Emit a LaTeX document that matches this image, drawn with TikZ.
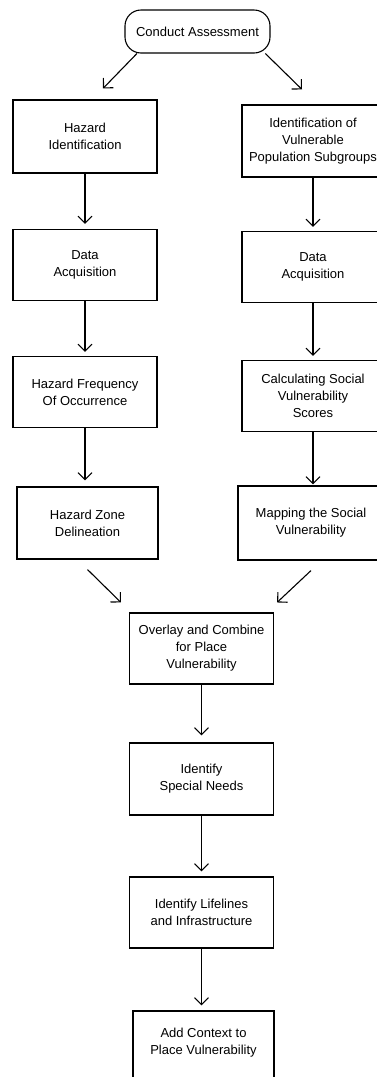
\documentclass[tikz,border=0pt]{standalone}
\usepackage{fontspec}
\setmainfont{Liberation Sans}
\usetikzlibrary{arrows.meta}

\begin{document}
\begin{tikzpicture}[x=1pt,y=-1pt,
        stepbox/.style={draw,line width=1.1pt,align=center,inner sep=2pt,
            minimum width=144pt,minimum height=71pt,
            font=\fontsize{13}{17}\selectfont},
        startbox/.style={stepbox,rounded corners=16pt,
            minimum width=145pt,minimum height=43pt},
        flow/.style={line width=1.1pt,-{Straight Barb[length=7pt,width=14pt]}}]
    \useasboundingbox (0,0) rectangle (376,1077);

    \node[startbox] (start) at (197.5,31.5) {Conduct Assessment};

    \node[stepbox,minimum height=73pt] (haz1) at (85,136.5) {Hazard\\Identification};
    \node[stepbox] (haz2) at (85,265) {Data\\Acquisition};
    \node[stepbox] (haz3) at (85,392) {Hazard Frequency\\Of Occurrence};
    \node[stepbox,minimum width=141pt,minimum height=72pt] (haz4) at (87.5,523) {Hazard Zone\\Delineation};

    \node[stepbox,minimum width=142pt,minimum height=72pt] (soc1) at (313,141) {Identification of\\Vulnerable\\Population Subgroups};
    \node[stepbox,minimum width=142pt] (soc2) at (313,267) {Data\\Acquisition};
    \node[stepbox,minimum width=142pt] (soc3) at (313,396) {Calculating Social\\Vulnerability\\Scores};
    \node[stepbox,minimum width=146pt,minimum height=74pt] (soc4) at (311,523) {Mapping the Social\\Vulnerability};

    \node[stepbox] (overlay) at (201.5,648.5) {Overlay and Combine\\for Place\\Vulnerability};
    \node[stepbox,minimum height=72pt] (special) at (201.5,779) {Identify\\Special Needs};
    \node[stepbox] (life) at (201.5,912.5) {Identify Lifelines\\and Infrastructure};
    \node[stepbox,minimum width=141pt,minimum height=76pt,text depth=16pt] (context) at (203.5,1049) {Add Context to\\Place Vulnerability};

    \draw[flow] (start.200) -- ([xshift=18pt,yshift=11pt]haz1.north);
    \draw[flow] (start.342) -- ([xshift=-11pt,yshift=15pt]soc1.north);

    \draw[flow,shorten >=5pt] (haz1.south) -- (haz2.north);
    \draw[flow,shorten >=4pt] (haz2.south) -- (haz3.north);
    \draw[flow,shorten >=6pt] (haz3.south) -- (haz3.south |- haz4.north);

    \draw[flow,shorten >=4pt] (soc1.south) -- (soc1.south |- soc2.north);
    \draw[flow,shorten >=4pt] (soc2.south) -- (soc3.north);
    \draw[flow,shorten >=1pt] (soc3.south) -- (soc3.south |- soc4.north);

    \draw[flow] ([yshift=-10pt]haz4.south) -- ([xshift=-8pt,yshift=10pt]overlay.north west);
    \draw[flow] ([yshift=-10pt]soc4.south) -- ([xshift=3pt,yshift=10pt]overlay.north east);

    \draw[flow,shorten >=7pt] (overlay.south) -- (special.north);
    \draw[flow,shorten >=5pt] (special.south) -- (life.north);
    \draw[flow,shorten >=5pt] (life.south) -- (life.south |- context.north);
\end{tikzpicture}
\end{document}
